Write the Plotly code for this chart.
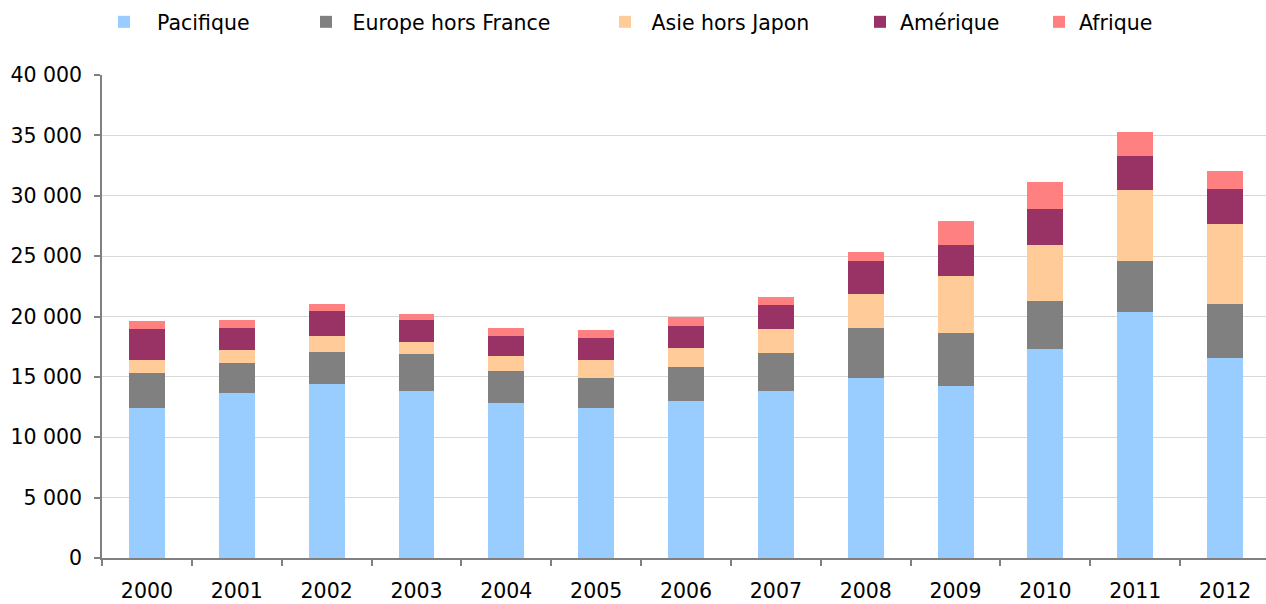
import plotly.graph_objects as go

years = ["2000", "2001", "2002", "2003", "2004", "2005", "2006",
         "2007", "2008", "2009", "2010", "2011", "2012"]
pacifique = [12420, 13660, 14410, 13830, 12830, 12420, 13000, 13830, 14900, 14240, 17300, 20370, 16560]
europe = [2900, 2480, 2650, 3060, 2650, 2480, 2810, 3150, 4140, 4390, 3980, 4220, 4470]
asie = [1080, 1080, 1320, 990, 1240, 1490, 1570, 1990, 2820, 4720, 4640, 5880, 6620]
amerique = [2570, 1820, 2070, 1820, 1660, 1820, 1820, 1990, 2730, 2570, 2980, 2820, 2900]
afrique = [660, 660, 580, 500, 660, 660, 750, 660, 750, 1990, 2240, 1990, 1490]

series = [
    ("  Pacifique", pacifique, "#99CCFF", "legend"),
    (" Europe hors France", europe, "#808080", "legend2"),
    (" Asie hors Japon", asie, "#FFCC99", "legend3"),
    ("Amérique", amerique, "#993366", "legend4"),
    ("Afrique", afrique, "#FF8080", "legend5"),
]

fig = go.Figure()
for name, vals, color, leg in series:
    fig.add_trace(go.Bar(x=years, y=vals, name=name, marker=dict(color=color, line=dict(width=0)),
                         legend=leg))

W, H = 1266, 604
font = dict(family="DejaVu Sans, Verdana, sans-serif", size=20.5, color="#000000")

def leg(xpx):
    return dict(orientation="h", x=xpx / W, y=1 - 2 / H, xref="container", yref="container",
                xanchor="left", yanchor="top", bgcolor="rgba(0,0,0,0)",
                font=font, borderwidth=0)

fig.update_layout(
    width=W, height=H,
    margin=dict(l=102, r=0, t=75, b=46, pad=0, autoexpand=False),
    paper_bgcolor="white", plot_bgcolor="white",
    font=font,
    barmode="stack", bargap=0.6,
    separators=", ",
    showlegend=True,
    legend=leg(104),
    legend2=leg(306),
    legend3=leg(605),
    legend4=leg(860),
    legend5=leg(1039),
    xaxis=dict(type="category", range=[-0.5, 12.455], showgrid=False, automargin=False,
               showline=True, linecolor="#808080", linewidth=1.5,
               ticks="outside", ticklen=6, tickcolor="#808080", tickwidth=1.5,
               tickson="boundaries", tickfont=font, ticklabelstandoff=14),
    yaxis=dict(range=[0, 40000], dtick=5000, tickformat=",d", automargin=False,
               showgrid=True, gridcolor="#d9d9d9", gridwidth=1,
               showline=True, linecolor="#808080", linewidth=1.5,
               ticks="outside", ticklen=6, tickcolor="#808080", tickwidth=1.5,
               tickfont=font, ticklabelstandoff=8, zeroline=False),
)

fig.write_html("out.html", config={"displayModeBar": False},
               post_script="document.body.style.margin='0';")
